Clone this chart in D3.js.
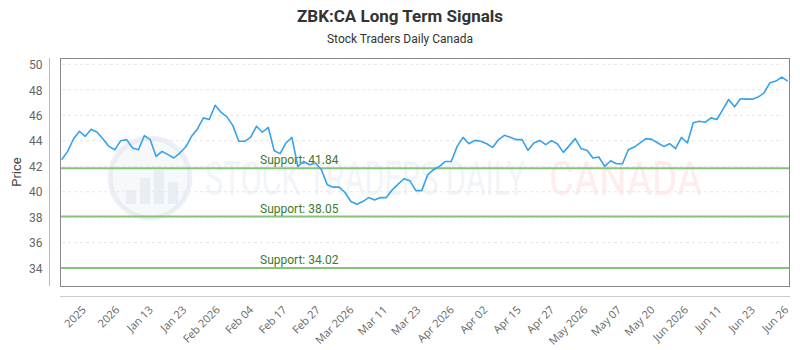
<!DOCTYPE html>
<html>
<head>
<meta charset="utf-8">
<script src="https://cdn.jsdelivr.net/npm/d3@7"></script>
<style>
  body { margin: 0; background: #fff; }
  svg { display: block; }
  .title { font-family: Roboto, sans-serif; font-weight: bold; font-size: 17px; fill: #333; text-anchor: middle; }
  .subtitle { font-family: Roboto, sans-serif; font-size: 12px; fill: #333; text-anchor: middle; }
  .ytick { font-family: Roboto, sans-serif; font-size: 12px; fill: #666; }
  .xtick { font-family: "Open Sans", sans-serif; font-size: 11px; fill: #666; }
  .supportText { font-family: Roboto, sans-serif; font-size: 12px; fill: #3d7a2e; }
</style>
</head>
<body>
<svg width="800" height="350"></svg>
<script>
// Chart data
let prices = [
  42.51, 43.17, 44.14, 44.75, 44.35, 44.90, 44.67, 44.14, 43.56, 43.30,
  44.01, 44.09, 43.43, 43.30, 44.40, 44.09, 42.77, 43.17, 42.91, 42.65,
  43.04, 43.51, 44.35, 44.93, 45.80, 45.67, 46.79, 46.24, 45.88, 45.19,
  43.96, 43.96, 44.27, 45.14, 44.67, 45.06, 43.22, 42.99, 43.83, 44.27,
  41.99, 42.38, 42.12, 42.25, 41.73, 40.54, 40.36, 40.36, 39.94, 39.23,
  39.02, 39.23, 39.54, 39.36, 39.54, 39.54, 40.15, 40.60, 41.02, 40.86,
  40.09, 40.09, 41.33, 41.73, 41.99, 42.38, 42.38, 43.56, 44.27, 43.77,
  44.03, 43.96, 43.77, 43.48, 44.09, 44.43, 44.27, 44.09, 44.09, 43.25,
  43.83, 44.03, 43.70, 44.01, 43.75, 43.09, 43.62, 44.17, 43.38, 43.25,
  42.65, 42.73, 41.99, 42.43, 42.20, 42.20, 43.30, 43.51, 43.83, 44.17,
  44.11, 43.83, 43.56, 43.77, 43.38, 44.27, 43.83, 45.41, 45.53, 45.45,
  45.80, 45.67, 46.45, 47.24, 46.67, 47.30, 47.27, 47.27, 47.43, 47.77,
  48.56, 48.69, 49.00, 48.69
]

let xLabels = [
  "2025", "2026", "Jan 13", "Jan 23", "Feb 2026", "Feb 04", "Feb 17", "Feb 27",
  "Mar 2026", "Mar 11", "Mar 23", "Apr 2026", "Apr 02", "Apr 15", "Apr 27",
  "May 2026", "May 07", "May 20", "Jun 2026", "Jun 11", "Jun 23", "Jun 26"
]

let yTicks = [34, 36, 38, 40, 42, 44, 46, 48, 50]

let supports = [41.84, 38.05, 34.02]

let box = { left: 60, right: 790, top: 58, bottom: 286 }

let svg = d3.select('svg')

// Scales
let xScale = d3.scaleLinear()
  .domain([0, prices.length - 1])
  .range([box.left + 1.7, box.right - 2.3])

let yScale = d3.scaleLinear()
  .domain([32.6, 50.5])
  .range([box.bottom, box.top])

// labels sit on their own evenly spaced positions
let labelScale = d3.scalePoint()
  .domain(xLabels)
  .range([xScale(4), xScale(prices.length - 1)])

// Title
svg.append('text')
  .attr('class', 'title')
  .attr('x', 400)
  .attr('y', 22)
  .text('ZBK:CA Long Term Signals')

svg.append('text')
  .attr('class', 'subtitle')
  .attr('x', 400)
  .attr('y', 43)
  .text('Stock Traders Daily Canada')

// Watermark
let wm = svg.append('g').attr('class', 'watermark')
wm.append('circle')
  .attr('cx', 150).attr('cy', 178).attr('r', 40)
  .attr('fill', 'rgba(225,231,240,0.3)')
  .attr('stroke', 'rgba(215,222,235,0.45)')
  .attr('stroke-width', 5)
let bars = [[126, 190, 14], [140, 178, 26], [154, 170, 34], [168, 182, 22]]
wm.selectAll('rect.wmbar')
  .data(bars)
  .enter()
  .append('rect')
  .attr('class', 'wmbar')
  .attr('x', d => d[0])
  .attr('y', d => d[1])
  .attr('width', 10)
  .attr('height', d => d[2])
  .attr('fill', 'rgba(215,222,236,0.4)')
wm.append('text')
  .attr('x', 205).attr('y', 195)
  .attr('textLength', 320)
  .attr('lengthAdjust', 'spacingAndGlyphs')
  .style('font-family', 'Roboto, sans-serif')
  .style('font-size', '49px')
  .style('fill', 'rgba(215,223,237,0.35)')
  .text('STOCK TRADERS DAILY')
wm.append('text')
  .attr('x', 549).attr('y', 195)
  .attr('textLength', 153)
  .attr('lengthAdjust', 'spacingAndGlyphs')
  .style('font-family', 'Roboto, sans-serif')
  .style('font-size', '49px')
  .style('fill', 'rgba(255,205,205,0.4)')
  .text('CANADA')

// Grid lines
svg.append('g')
  .selectAll('line')
  .data(yTicks)
  .enter()
  .append('line')
  .attr('x1', box.left + 2)
  .attr('x2', box.right - 7)
  .attr('y1', d => yScale(d))
  .attr('y2', d => yScale(d))
  .attr('stroke', '#e6e6e6')
  .attr('stroke-dasharray', '3,3')

// Plot frame
svg.append('rect')
  .attr('x', box.left + 0.5)
  .attr('y', box.top + 0.5)
  .attr('width', box.right - box.left - 1)
  .attr('height', box.bottom - box.top)
  .attr('fill', 'none')
  .attr('stroke', '#888')

// Y axis
let yAxis = d3.axisLeft(yScale)
  .tickValues(yTicks)
  .tickSize(0)
  .tickPadding(0)
let yg = svg.append('g')
  .attr('transform', `translate(${box.left - 10.5},0)`)
  .call(yAxis)
yg.select('.domain').remove()
yg.append('line')
  .attr('x1', 0).attr('x2', 0)
  .attr('y1', box.top).attr('y2', box.bottom)
  .attr('stroke', '#bbb')
yg.selectAll('text')
  .attr('class', 'ytick')
  .attr('x', -7)
  .attr('dy', '0.35em')
  .attr('font-family', null)
  .attr('font-size', null)
  .attr('fill', null)

svg.append('text')
  .attr('transform', `translate(21,${(box.top + box.bottom) / 2}) rotate(-90)`)
  .attr('text-anchor', 'middle')
  .style('font-family', 'Roboto, sans-serif')
  .style('font-size', '13px')
  .style('fill', '#444')
  .text('Price')

// X axis
let xAxis = d3.axisBottom(labelScale)
  .tickSize(0)
  .tickPadding(0)
let xg = svg.append('g')
  .attr('transform', `translate(0,${box.bottom + 10.5})`)
  .call(xAxis)
xg.select('.domain').remove()
xg.append('line')
  .attr('x1', box.left).attr('x2', box.right)
  .attr('stroke', '#ccc')
xg.selectAll('text')
  .attr('class', 'xtick')
  .attr('font-family', null)
  .attr('font-size', null)
  .attr('fill', null)
  .attr('y', 0)
  .attr('dy', 0)
  .attr('text-anchor', 'end')
  .attr('transform', 'translate(1,14) rotate(-45)')

// Support lines
svg.append('g')
  .selectAll('line')
  .data(supports)
  .enter()
  .append('line')
  .attr('x1', box.left + 1)
  .attr('x2', box.right - 1)
  .attr('y1', d => yScale(d))
  .attr('y2', d => yScale(d))
  .attr('stroke', '#86c47a')
  .attr('stroke-width', 2)

svg.append('g')
  .selectAll('text')
  .data(supports)
  .enter()
  .append('text')
  .attr('class', 'supportText')
  .attr('x', 260)
  .attr('y', d => yScale(d) - 4)
  .text(d => 'Support: ' + d.toFixed(2))

// Price line
let line = d3.line()
  .x((d, i) => xScale(i))
  .y(d => yScale(d))

svg.append('path')
  .datum(prices)
  .attr('d', line)
  .attr('fill', 'none')
  .attr('stroke', '#36a2eb')
  .attr('stroke-width', 1.6)
  .attr('stroke-linejoin', 'round')
</script>
</body>
</html>
